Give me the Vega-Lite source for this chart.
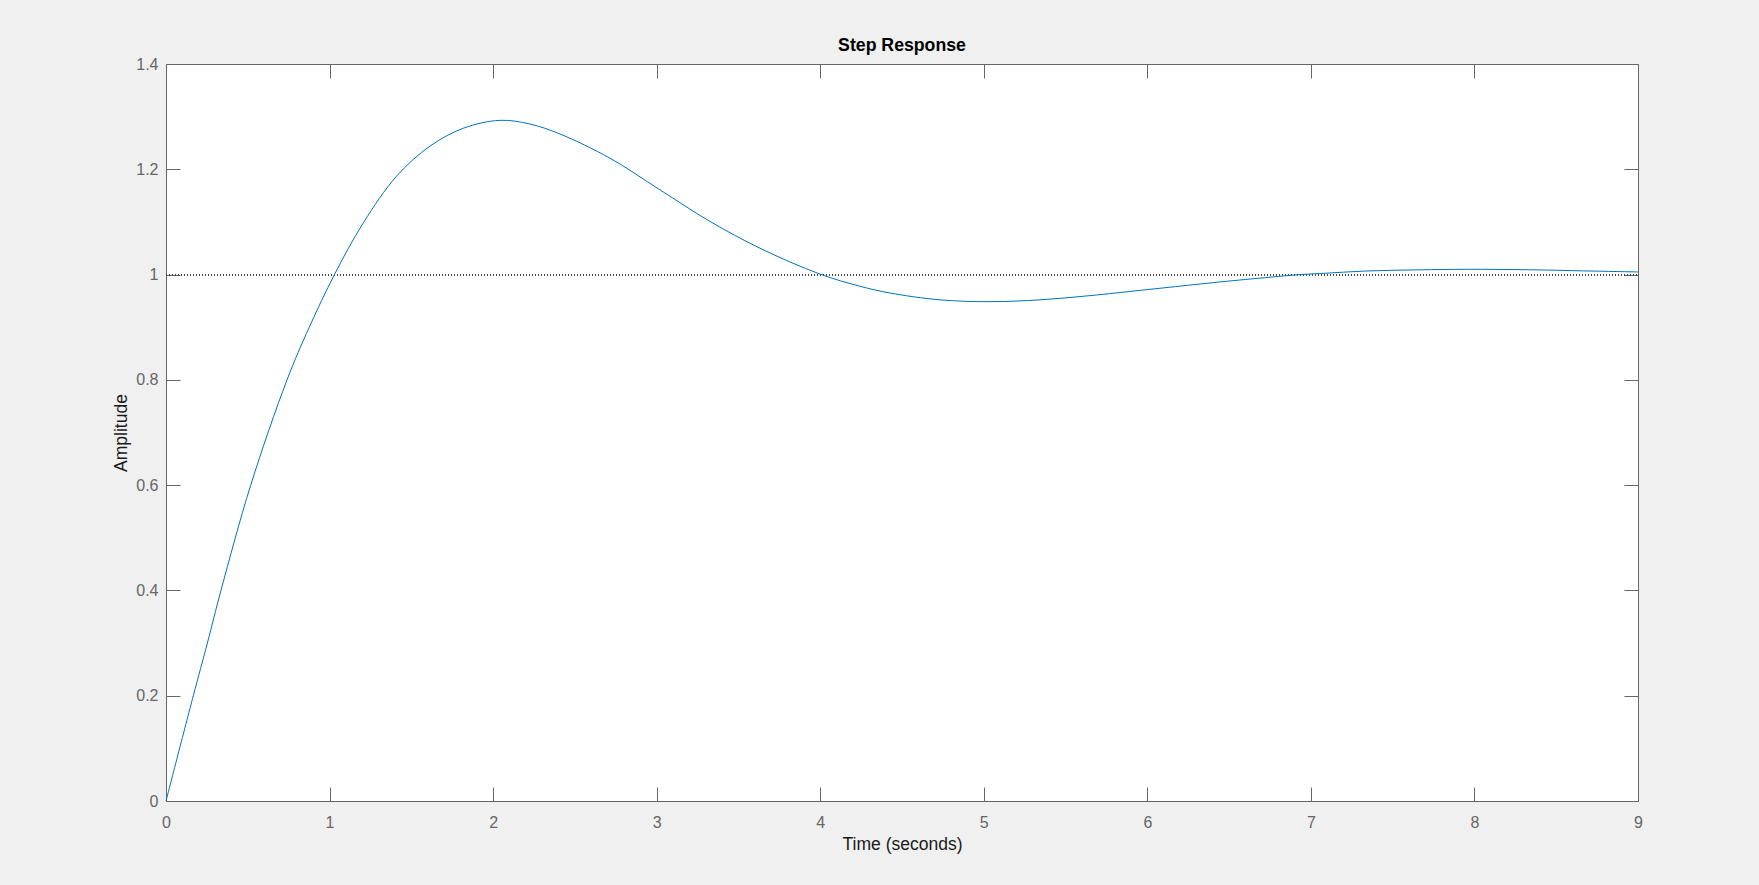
{
  "$schema": "https://vega.github.io/schema/vega-lite/v6.json",
  "autosize": "none",
  "width": 1472,
  "height": 737,
  "padding": {"left": 166, "top": 64, "right": 121, "bottom": 84},
  "background": "#f0f0f0",
  "config": {
    "view": {"fill": "white", "stroke": "#666666", "strokeWidth": 1},
    "font": "Liberation Sans",
    "axis": {
      "grid": false,
      "domain": false,
      "tickColor": "#666666",
      "tickSize": -14,
      "tickWidth": 1,
      "labelFlush": false,
      "labelFont": "Liberation Sans",
      "labelFontSize": 16,
      "labelColor": "#666666",
      "titleFont": "Liberation Sans",
      "titleFontSize": 17.5,
      "titleFontWeight": "normal",
      "titleColor": "#1a1a1a"
    }
  },
  "title": {
    "text": "Step Response",
    "font": "Liberation Sans",
    "fontSize": 17.7,
    "fontWeight": "bold",
    "color": "#000000",
    "anchor": "middle",
    "baseline": "alphabetic",
    "offset": -13
  },
  "data": {
    "values": [
      {"t": 0, "v": 0},
      {"t": 0.167, "v": 0.2},
      {"t": 0.253, "v": 0.3},
      {"t": 0.336, "v": 0.4},
      {"t": 0.518, "v": 0.6},
      {"t": 0.74, "v": 0.8},
      {"t": 0.876, "v": 0.9},
      {"t": 1.03, "v": 1.0},
      {"t": 1.206, "v": 1.098},
      {"t": 1.41, "v": 1.187},
      {"t": 1.614, "v": 1.244},
      {"t": 1.818, "v": 1.278},
      {"t": 2.042, "v": 1.293},
      {"t": 2.225, "v": 1.286},
      {"t": 2.409, "v": 1.267},
      {"t": 2.715, "v": 1.221},
      {"t": 3.02, "v": 1.161},
      {"t": 3.326, "v": 1.101},
      {"t": 3.632, "v": 1.05},
      {"t": 3.998, "v": 1.001},
      {"t": 4.241, "v": 0.978},
      {"t": 4.426, "v": 0.965},
      {"t": 4.732, "v": 0.952},
      {"t": 5.038, "v": 0.9485},
      {"t": 5.344, "v": 0.952},
      {"t": 5.649, "v": 0.96},
      {"t": 5.955, "v": 0.97},
      {"t": 6.138, "v": 0.976},
      {"t": 6.444, "v": 0.986},
      {"t": 6.75, "v": 0.995},
      {"t": 6.933, "v": 1.0},
      {"t": 7.055, "v": 1.002},
      {"t": 7.361, "v": 1.007},
      {"t": 7.667, "v": 1.009},
      {"t": 7.952, "v": 1.01},
      {"t": 8.36, "v": 1.009},
      {"t": 8.667, "v": 1.007},
      {"t": 9.0, "v": 1.005}
    ]
  },
  "layer": [
    {
      "mark": {"type": "rule", "color": "#404040", "strokeWidth": 1, "strokeDash": [1, 2]},
      "encoding": {
        "x": {
          "datum": 0,
          "type": "quantitative",
          "scale": {"domain": [0, 9], "nice": false, "zero": false},
          "axis": {"orient": "top", "labels": false, "title": null, "values": [0, 1, 2, 3, 4, 5, 6, 7, 8, 9]}
        },
        "x2": {"datum": 9},
        "y": {
          "datum": 1,
          "type": "quantitative",
          "scale": {"domain": [0, 1.4], "nice": false, "zero": false},
          "axis": {"orient": "right", "labels": false, "title": null, "values": [0, 0.2, 0.4, 0.6, 0.8, 1, 1.2, 1.4]}
        }
      }
    },
    {
      "mark": {"type": "line", "color": "#0072BD", "strokeWidth": 1, "interpolate": "catmull-rom"},
      "encoding": {
        "x": {
          "field": "t",
          "type": "quantitative",
          "scale": {"domain": [0, 9], "nice": false, "zero": false},
          "axis": {"orient": "bottom", "title": "Time (seconds)", "values": [0, 1, 2, 3, 4, 5, 6, 7, 8, 9], "labelPadding": 27, "titlePadding": 5, "format": "~g"}
        },
        "y": {
          "field": "v",
          "type": "quantitative",
          "scale": {"domain": [0, 1.4], "nice": false, "zero": false},
          "axis": {"orient": "left", "title": "Amplitude", "values": [0, 0.2, 0.4, 0.6, 0.8, 1, 1.2, 1.4], "labelPadding": 22, "titlePadding": 5.5, "format": "~g"}
        }
      }
    }
  ],
  "resolve": {"axis": {"x": "independent", "y": "independent"}}
}
